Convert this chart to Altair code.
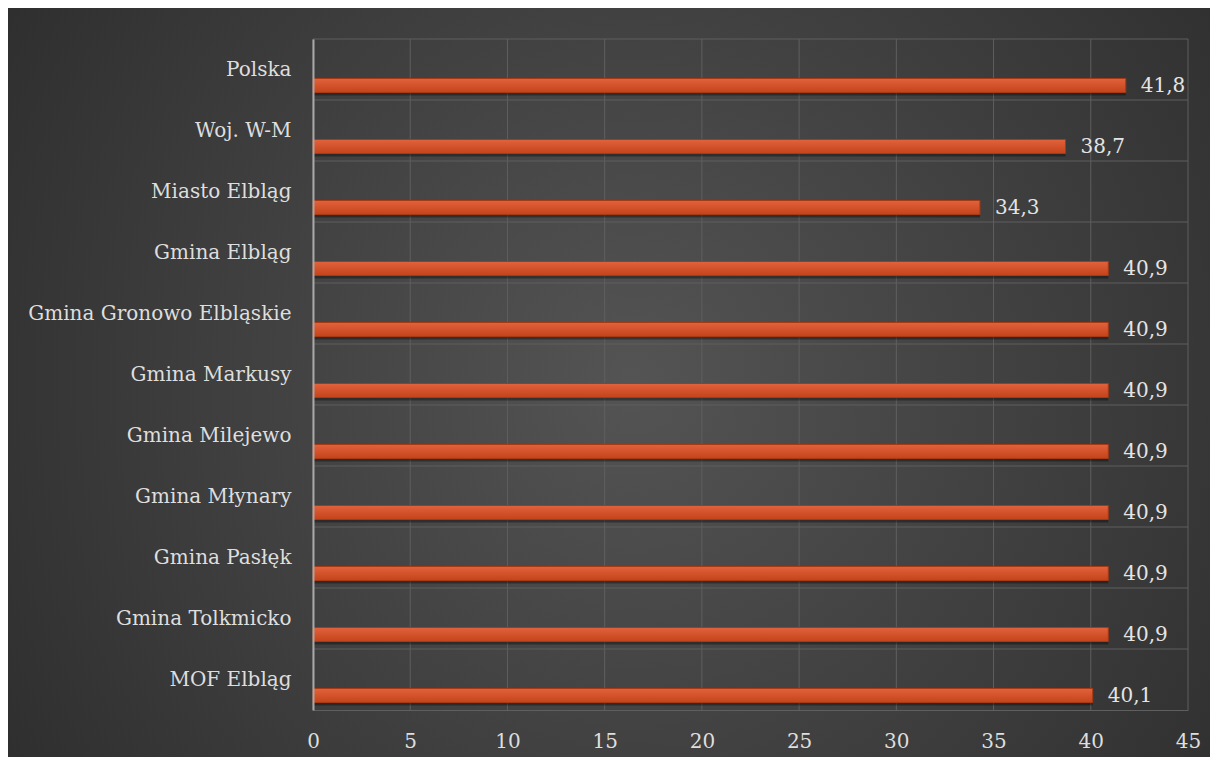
import altair as alt
import pandas as pd

categories = ["Polska", "Woj. W-M", "Miasto Elbląg", "Gmina Elbląg",
              "Gmina Gronowo Elbląskie", "Gmina Markusy", "Gmina Milejewo",
              "Gmina Młynary", "Gmina Pasłęk", "Gmina Tolkmicko", "MOF Elbląg"]
values = [41.8, 38.7, 34.3, 40.9, 40.9, 40.9, 40.9, 40.9, 40.9, 40.9, 40.1]
x_ticks = [0, 5, 10, 15, 20, 25, 30, 35, 40, 45]

df = pd.DataFrame({
    "cat": categories,
    "v": values,
    "lab": [f"{v:.1f}".replace(".", ",") for v in values],
})
ticks_df = pd.DataFrame({"t": x_ticks})

W, H = 875, 671
PL, PT = 305, 31
TOTAL_W, TOTAL_H = 1202, 749
FONT = "DejaVu Serif"
GRID = "#5f5f5f"

bg_grad = {
    "gradient": "radial",
    "x1": 0.52, "y1": 0.5, "r1": 0,
    "x2": 0.52, "y2": 0.5, "r2": 0.75,
    "stops": [
        {"offset": 0, "color": "#545454"},
        {"offset": 1, "color": "#262626"},
    ],
}
bar_grad = {
    "gradient": "linear",
    "x1": 0, "y1": 0, "x2": 0, "y2": 1,
    "stops": [
        {"offset": 0, "color": "#E2623C"},
        {"offset": 1, "color": "#C4431A"},
    ],
}

y_scale = alt.Scale(domain=categories, paddingInner=0, paddingOuter=0)
x_scale = alt.Scale(domain=[0, 45], nice=False)

background = alt.Chart(pd.DataFrame({"a": [0]})).mark_rect(
    fill=bg_grad
).encode(
    x=alt.value(-PL), x2=alt.value(TOTAL_W - PL),
    y=alt.value(-PT), y2=alt.value(TOTAL_H - PT),
)

vgrid = alt.Chart(ticks_df).mark_rule(color=GRID, strokeWidth=1).encode(
    x=alt.X("t:Q", scale=x_scale),
    y=alt.value(0), y2=alt.value(H),
)

hgrid = alt.Chart(df).mark_rule(color=GRID, strokeWidth=1).encode(
    y=alt.Y("cat:N", scale=y_scale, sort=categories, bandPosition=0),
    x=alt.value(0), x2=alt.value(W),
)

base = alt.Chart(df)

shadow = base.mark_bar(size=8, yOffset=22, color="#000000", opacity=0.35).encode(
    x=alt.X("v:Q", scale=x_scale),
    x2=alt.value(0),
    y=alt.Y("cat:N", scale=y_scale, sort=categories),
)

bars = base.mark_bar(size=14, yOffset=16, fill=bar_grad, stroke="#A63A14",
                     strokeWidth=1).encode(
    x=alt.X("v:Q", scale=x_scale,
            axis=alt.Axis(values=x_ticks, title=None, grid=False,
                          domain=True, domainColor=GRID, domainWidth=1,
                          ticks=False, labelFont=FONT, labelFontSize=20,
                          labelColor="#dedede", labelPadding=21,
                          labelFlush=False, zindex=1)),
    y=alt.Y("cat:N", scale=y_scale, sort=categories,
            axis=alt.Axis(title=None, grid=False,
                          domain=True, domainColor="#a8a8a8", domainWidth=2,
                          ticks=False, labelFont=FONT, labelFontSize=20,
                          labelColor="#dedede", labelPadding=22,
                          labelLimit=400, zindex=1)),
)

labels = base.mark_text(align="left", baseline="middle", dx=15, yOffset=16,
                        font=FONT, fontSize=20, color="#e4e4e4").encode(
    x=alt.X("v:Q", scale=x_scale),
    y=alt.Y("cat:N", scale=y_scale, sort=categories),
    text="lab:N",
)

chart = alt.layer(background, vgrid, hgrid, shadow, bars, labels).properties(
    width=W, height=H,
    autosize=alt.AutoSizeParams(type="none"),
    padding={"left": PL, "top": PT, "right": TOTAL_W - PL - W,
             "bottom": TOTAL_H - PT - H},
).configure_view(stroke=None).configure(background="#ffffff")

chart.save("out.html", embed_options={"renderer": "svg", "actions": False})
